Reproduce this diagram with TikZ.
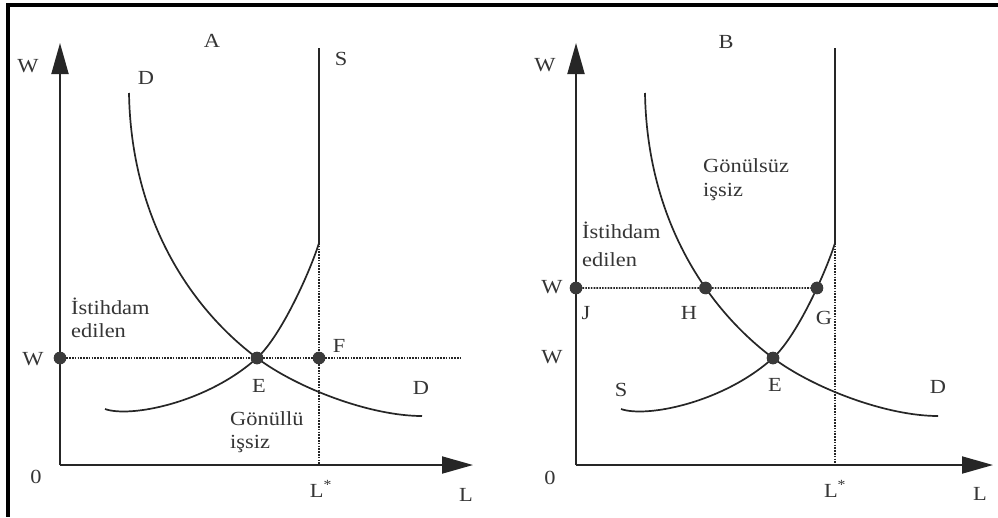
\documentclass[tikz,border=0pt]{standalone}
\usepackage{fontspec}
\setmainfont{Liberation Serif}[FakeStretch=1.12]
\usetikzlibrary{arrows.meta,intersections}
\definecolor{linec}{HTML}{262626}
\definecolor{dotc}{HTML}{3A3A3A}
\definecolor{textc}{HTML}{353535}
\begin{document}
\begin{tikzpicture}[x=1pt,y=-1pt,
  ln/.style={draw=linec, line width=1.7pt},
  axisln/.style={draw=linec, line width=1.9pt, -{Triangle[length=31pt,width=17pt]}},
  dotl/.style={draw=linec, line width=1.8pt, dash pattern=on 1.6pt off 1.2pt},
  pt/.style={circle, fill=dotc, minimum size=12.5pt, inner sep=0pt},
  lbl/.style={text=textc, font=\fontsize{20}{23}\selectfont, inner sep=0pt}]
\useasboundingbox (0,0) rectangle (998,517);
\fill[white] (0,0) rectangle (998,517);
% frame (top and left)
\fill[black] (6,3) rectangle (998,7);
\fill[black] (6,3) rectangle (10,517);

% ---------- Panel A ----------
\coordinate (OA) at (60,465);
\coordinate (WtopA) at (60,43);
\coordinate (LendA) at (473,465);
\draw[axisln] (OA) -- (WtopA);
\draw[axisln] (OA) -- (LendA);
% demand
\draw[ln] (129,93) .. controls (131,215) and (187,305.5) .. (257,358)
               .. controls (297,388) and (370,416) .. (422,416);
% supply
\draw[ln] (105,409) .. controls (130,418) and (207,403) .. (257,358)
               .. controls (282,335) and (311,269) .. (319,243) -- (319,48);
\node[pt] (WA) at (60,358) {};
\node[pt] (EA) at (257,358) {};
\node[pt] (FA) at (319,358) {};
\coordinate (hendA) at (462,358);
\coordinate (vtopA) at (319,243);
\coordinate (LsA) at (319,465);
\draw[dotl] (WA) -- (EA) -- (FA) -- (hendA);
\draw[dotl] (vtopA) -- (FA) -- (LsA);
\node[pt] at (WA) {};
\node[pt] at (EA) {};
\node[pt] at (FA) {};
% labels A
\node[lbl] (tWA) at (28,66) {W};
\node[lbl] (tA) at (212,41) {A};
\node[lbl] (tDA) at (146,78) {D};
\node[lbl] (tSA) at (341,59) {S};
\node[lbl] (tWA2) at (33,359) {W};
\node[lbl] (tEA) at (259,386) {E};
\node[lbl] (tFA) at (339,346) {F};
\node[lbl] (tDA2) at (421,388) {D};
\node[lbl] (t0A) at (36,477) {0};
\node[lbl] (tLsA) at (321,489) {L\textsuperscript{*}};
\node[lbl] (tLA) at (466,495) {L};
\node[lbl, anchor=base west] (iA1) at (71,314) {İstihdam};
\node[lbl, anchor=base west] (iA2) at (71,337) {edilen};
\node[lbl, anchor=base west] (gA1) at (230,425) {Gönüllü};
\node[lbl, anchor=base west] (gA2) at (230,448) {işsiz};

% ---------- Panel B ----------
\coordinate (OB) at (576,465);
\coordinate (WtopB) at (576,43);
\coordinate (LendB) at (993,465);
\draw[axisln] (OB) -- (WtopB);
\draw[axisln] (OB) -- (LendB);
\begin{scope}[xshift=516pt]
\draw[ln, name path global=DB] (129,93) .. controls (131,215) and (187,305.5) .. (257,358)
               .. controls (297,388) and (370,416) .. (422,416);
\draw[ln, name path global=SB] (105,409) .. controls (130,418) and (207,403) .. (257,358)
               .. controls (282,335) and (311,269) .. (319,243) -- (319,48);
\end{scope}
\path[name path=hB] (576,288) -- (900,288);
\path[name intersections={of=DB and hB, by={Hc}}];
\path[name intersections={of=SB and hB, by={Gc}}];
\node[pt] (JB) at (576,288) {};
\node[pt] (HB) at (Hc) {};
\node[pt] (GB) at (Gc) {};
\node[pt] (EB) at (773,358) {};
\coordinate (vtopB) at (835,243);
\coordinate (LsB) at (835,465);
\draw[dotl] (JB) -- (HB) -- (GB);
\draw[dotl] (vtopB) -- (LsB);
\node[pt] at (JB) {};
\node[pt] at (HB) {};
\node[pt] at (GB) {};
\node[pt] at (EB) {};
% labels B
\node[lbl] (tWB) at (545,65) {W};
\node[lbl] (tB) at (726,42) {B};
\node[lbl] (tWB2) at (552,287) {W};
\node[lbl] (tJB) at (586,313) {J};
\node[lbl] (tHB) at (689,313) {H};
\node[lbl] (tGB) at (824,318) {G};
\node[lbl] (tWB3) at (552,357) {W};
\node[lbl] (tEB) at (775,385) {E};
\node[lbl] (tSB) at (621,390) {S};
\node[lbl] (tDB) at (938,387) {D};
\node[lbl] (t0B) at (550,478) {0};
\node[lbl] (tLsB) at (835,489) {L\textsuperscript{*}};
\node[lbl] (tLB) at (980,494) {L};
\node[lbl, anchor=base west] (iB1) at (582,238) {İstihdam};
\node[lbl, anchor=base west] (iB2) at (582,266) {edilen};
\node[lbl, anchor=base west] (gB1) at (703,172) {Gönülsüz};
\node[lbl, anchor=base west] (gB2) at (703,196) {işsiz};
\end{tikzpicture}
\end{document}
